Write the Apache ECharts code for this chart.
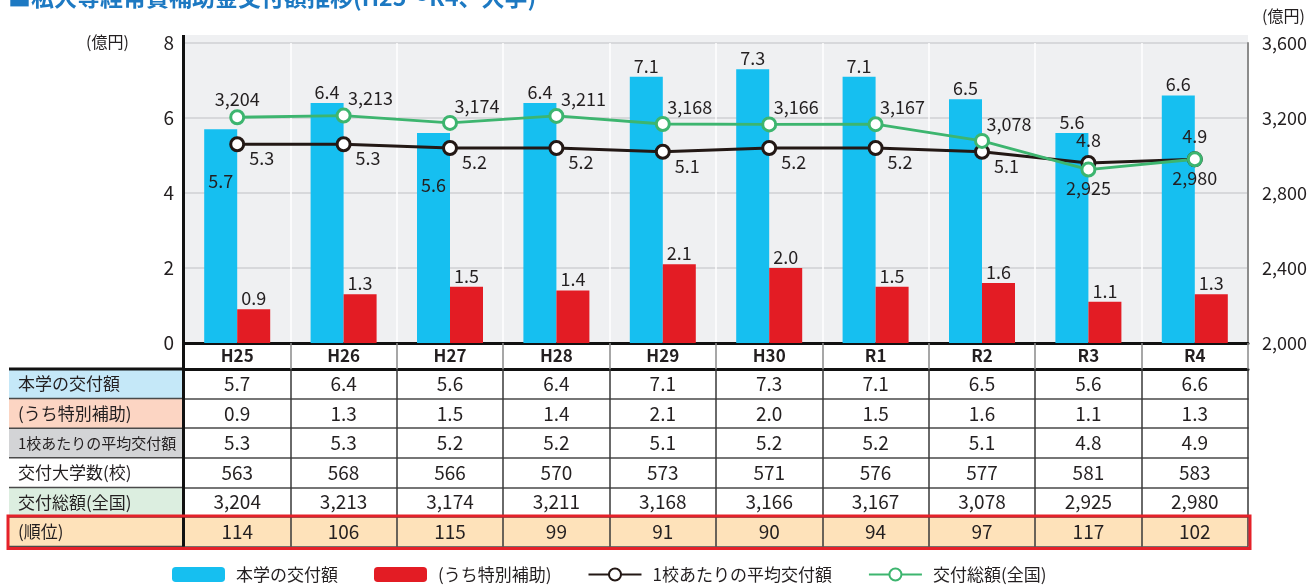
<!DOCTYPE html>
<html>
<head>
<meta charset="utf-8">
<script src="https://cdn.jsdelivr.net/npm/echarts@6/dist/echarts.min.js"></script>
<style>
html,body{margin:0;padding:0;background:#fff;}
#main{width:1311px;height:586px;}
</style>
</head>
<body>
<div id="main"></div>
<script>
// 年度
var categories = ['H25','H26','H27','H28','H29','H30','R1','R2','R3','R4'];
// 本学の交付額(億円)
var koufu = [5.7,6.4,5.6,6.4,7.1,7.3,7.1,6.5,5.6,6.6];
// うち特別補助(億円)
var tokubetsu = [0.9,1.3,1.5,1.4,2.1,2.0,1.5,1.6,1.1,1.3];
// 1校あたりの平均交付額(億円)
var heikin = [5.3,5.3,5.2,5.2,5.1,5.2,5.2,5.1,4.8,4.9];
// 交付大学数(校)
var daigakusu = [563,568,566,570,573,571,576,577,581,583];
// 交付総額(全国, 億円)
var zenkoku = [3204,3213,3174,3211,3168,3166,3167,3078,2925,2980];
// 順位
var juni = [114,106,115,99,91,90,94,97,117,102];
var leftTicks = [0, 8, 2];
var rightTicks = [2000, 3600, 400];

var FONT = '"Noto Sans CJK JP", "Noto Sans", sans-serif';
var TXT = '#231f20';
var BLUE = '#16bff0', RED = '#e31c24', BLACK = '#231815', GREEN = '#3db56f';

var GL = 184, GR = 1248, GT = 43, GB = 343;
var HEAD_H = 26, ROW_H = 29.6;

function comma(v){ return String(v).replace(/\B(?=(\d{3})+(?!\d))/g, ','); }
function f1(v){ return v.toFixed(1); }

var rows = [
  {name:'本学の交付額', vals: koufu.map(f1), bg:'#c5e8f8', size:17},
  {name:'(うち特別補助)', vals: tokubetsu.map(f1), bg:'#fcd5c3', size:17},
  {name:'1校あたりの平均交付額', vals: heikin.map(f1), bg:'#d3d4d6', size:15},
  {name:'交付大学数(校)', vals: daigakusu.map(String), bg:'#ffffff', size:17},
  {name:'交付総額(全国)', vals: zenkoku.map(comma), bg:'#dceee0', size:17},
  {name:'(順位)', vals: juni.map(String), bg:'#fee2ba', size:17}
];

var chart = echarts.init(document.getElementById('main'));

// table axes
var xAxes = [{
  type:'category', data:categories, gridIndex:0, position:'bottom',
  axisLine:{lineStyle:{color:'#111', width:3}},
  axisTick:{show:true, interval:0, length:HEAD_H, lineStyle:{color:'#8a8a8a', width:1.5}},
  axisLabel:{interval:0, margin:HEAD_H/2, verticalAlign:'middle', fontFamily:FONT, fontSize:17, fontWeight:'bold', color:TXT},
  splitLine:{show:true, interval:0, lineStyle:{color:'#ffffff', width:1.5}}
}];
rows.forEach(function(r, k){
  xAxes.push({
    type:'category', data:categories, gridIndex:0, position:'bottom',
    offset: HEAD_H + k*ROW_H,
    axisLine:{lineStyle:{color: k===0 ? '#111' : '#4a4a4a', width: k===0 ? 3 : 1.5}},
    axisTick:{show:true, interval:0, length:ROW_H, lineStyle:{color:'#3a3a3a', width:1.5}},
    axisLabel:{interval:0, margin:ROW_H/2, verticalAlign:'middle', fontFamily:FONT, fontSize:19, color:TXT,
      formatter:(function(vals){ return function(v, i){ return vals[i]; }; })(r.vals)},
    splitLine:{show:false}
  });
});
xAxes.push({
  type:'category', data:categories, gridIndex:0, position:'bottom',
  offset: HEAD_H + rows.length*ROW_H,
  axisLine:{lineStyle:{color:'#4a4a4a', width:1.5}},
  axisTick:{show:false}, axisLabel:{show:false}, splitLine:{show:false}
});

// label column + decorations
var graphics = [
  {type:'rect', z:-10, shape:{x:GL, y:35, width:GR-GL, height:GB-35}, style:{fill:'#eff0f2'}},
  {type:'rect', z:-10, shape:{x:9, y:GB+HEAD_H+5*ROW_H, width:GR-9, height:ROW_H}, style:{fill:'#fee2ba'}},
  {type:'text', left:8, top:-14, style:{text:'■私大等経常費補助金交付額推移(H25～R4、大学)', font:'bold 23px ' + FONT, fill:'#1d79c2'}},
  {type:'text', left:86, top:34, style:{text:'(億円)', font:'16px ' + FONT, fill:TXT}},
  {type:'text', left:1262, top:8, style:{text:'(億円)', font:'16px ' + FONT, fill:TXT}}
];
rows.forEach(function(r, k){
  var y = GB + HEAD_H + k*ROW_H;
  graphics.push({type:'rect', z:-5, shape:{x:9, y:y, width:GL-9, height:ROW_H}, style:{fill:r.bg}});
  graphics.push({type:'text', z:5, x:18, y:y+ROW_H/2, style:{text:r.name, font:r.size + 'px ' + FONT, fill:TXT, verticalAlign:'middle'}});
  graphics.push({type:'line', z:6, shape:{x1:9, y1:y, x2:GL, y2:y},
    style:{stroke: k===0 ? '#111' : '#4a4a4a', lineWidth: k===0 ? 3 : 1.5}});
});
graphics.push({type:'line', z:6, shape:{x1:9, y1:GB+HEAD_H+6*ROW_H, x2:GL, y2:GB+HEAD_H+6*ROW_H}, style:{stroke:'#4a4a4a', lineWidth:1.5}});
graphics.push({type:'line', z:20, shape:{x1:GL-0.5, y1:35, x2:GL-0.5, y2:GB+HEAD_H+6*ROW_H}, style:{stroke:'#111', lineWidth:3}});
graphics.push({type:'rect', z:30, shape:{x:8, y:GB+HEAD_H+5*ROW_H-1, width:GR-6, height:ROW_H+3}, style:{fill:null, stroke:'#e52129', lineWidth:3}});

var numLabel = {fontFamily:FONT, fontSize:18, color:TXT};

var blueData = koufu.map(function(v, i){
  if (i === 0 || i === 2) return {value:v, label:{position:'insideTop', distance:43}};
  return v;
});
var blackData = heikin.map(function(v, i){
  if (i >= 8) return {value:v, label:{position:'top', distance:6, offset:[0,0]}};
  return v;
});
var greenData = zenkoku.map(function(v, i){
  if (i === 0) return {value:v, label:{position:'top', distance:1, offset:[0,0]}};
  if (i >= 8) return {value:v, label:{position:'bottom', distance:2, offset:[0,0]}};
  return v;
});

var option = {
  animation:false,
  textStyle:{fontFamily:FONT},
  graphic:graphics,
  grid:{left:GL, right:1311-GR, top:GT, bottom:586-GB, outerBoundsMode:'none', containLabel:false},
  legend:{
    left:167, top:561, itemWidth:53, itemHeight:15, itemGap:36,
    textStyle:{fontFamily:FONT, fontSize:17, color:TXT, padding:[0,0,0,6]},
    data:['本学の交付額','(うち特別補助)','1校あたりの平均交付額','交付総額(全国)']
  },
  xAxis:xAxes,
  yAxis:[{
    type:'value', min:leftTicks[0], max:leftTicks[1], interval:leftTicks[2],
    axisLine:{show:false}, axisTick:{show:false},
    axisLabel:{margin:10, fontFamily:FONT, fontSize:19, color:TXT},
    splitLine:{lineStyle:{color:'#cfd0d3', width:1.5}}
  },{
    type:'value', min:rightTicks[0], max:rightTicks[1], interval:rightTicks[2], position:'right',
    axisLine:{show:true, lineStyle:{color:'#8c8c8c', width:2}}, axisTick:{show:false},
    axisLabel:{margin:14, fontFamily:FONT, fontSize:18, color:TXT, formatter:function(v){ return comma(v); }},
    splitLine:{show:false}
  }],
  series:[{
    name:'本学の交付額', type:'bar', data:blueData, barWidth:33, barGap:0,
    itemStyle:{color:BLUE},
    label:Object.assign({show:true, position:'top', distance:2, formatter:function(p){ return f1(p.value); }}, numLabel)
  },{
    name:'(うち特別補助)', type:'bar', data:tokubetsu, barWidth:33, barGap:0,
    itemStyle:{color:RED},
    label:Object.assign({show:true, position:'top', distance:2, formatter:function(p){ return f1(p.value); }}, numLabel)
  },{
    name:'1校あたりの平均交付額', type:'line', data:blackData, yAxisIndex:0,
    symbol:'circle', symbolSize:13,
    itemStyle:{color:'#ffffff', borderColor:BLACK, borderWidth:3},
    lineStyle:{color:BLACK, width:2.8},
    label:Object.assign({show:true, position:'right', distance:4, offset:[0,14], formatter:function(p){ return f1(p.value); }}, numLabel)
  },{
    name:'交付総額(全国)', type:'line', data:greenData, yAxisIndex:1,
    symbol:'circle', symbolSize:13,
    itemStyle:{color:'#ffffff', borderColor:GREEN, borderWidth:3},
    lineStyle:{color:GREEN, width:2.8},
    label:Object.assign({show:true, position:'top', distance:0, offset:[27,0], formatter:function(p){ return comma(p.value); }}, numLabel)
  }]
};
chart.setOption(option);
</script>
</body>
</html>
